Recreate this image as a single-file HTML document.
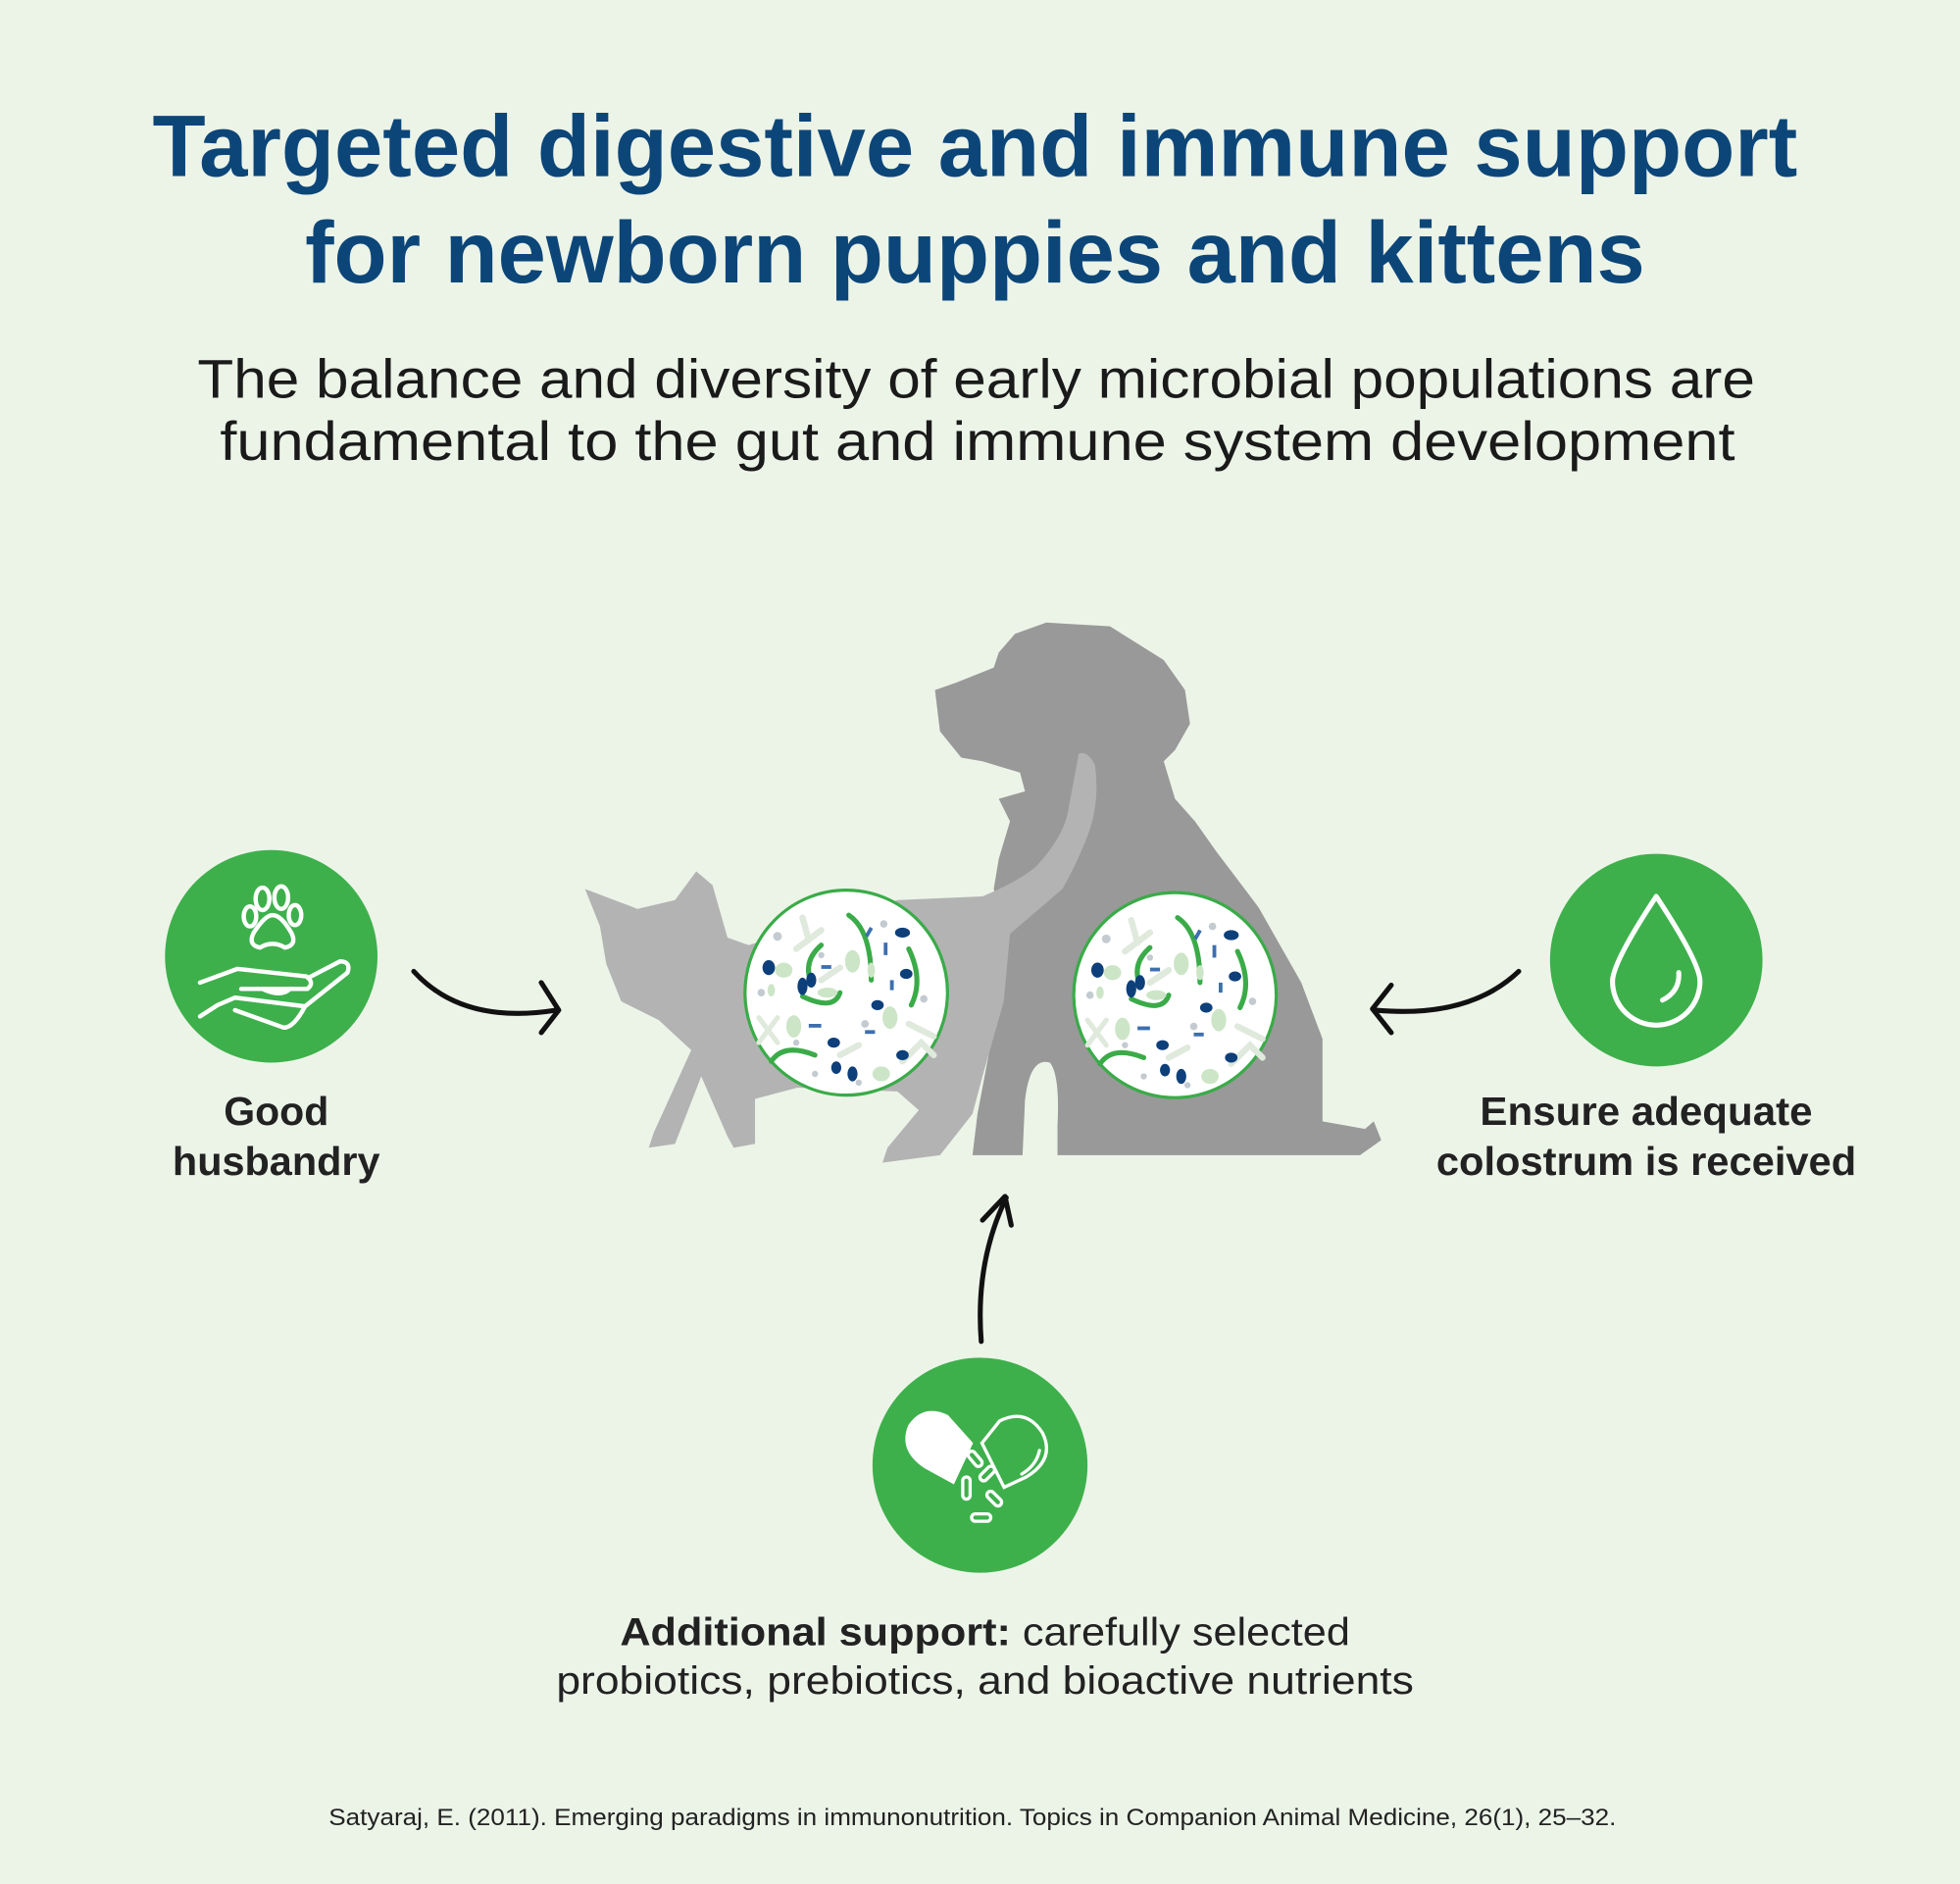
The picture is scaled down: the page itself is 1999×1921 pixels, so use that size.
<!DOCTYPE html>
<html><head><meta charset="utf-8"><style>
html,body{margin:0;padding:0;background:#ecf4e8;}
svg{display:block;}
text{font-family:"Liberation Sans",sans-serif;}
</style></head><body>
<svg width="1999" height="1921" viewBox="0 0 1568 1507" preserveAspectRatio="none" xmlns="http://www.w3.org/2000/svg">
<rect width="1568" height="1507" fill="#ecf4e8"/>
<defs>
<g id="mic">
<ellipse rx="81" ry="82" fill="#fff" stroke="#3aab48" stroke-width="2.5"/>
<g stroke-linecap="round" fill="none">
<path d="M2,-62 Q20,-50 20,-10" stroke="#3aab48" stroke-width="4"/>
<path d="M-20,-38 Q-35,-25 -28,-8" stroke="#3aab48" stroke-width="4"/>
<path d="M-35,3 Q-10,15 -5,0" stroke="#3aab48" stroke-width="4"/>
<path d="M50,-35 Q62,-10 52,10" stroke="#3aab48" stroke-width="4"/>
<path d="M-60,55 Q-50,40 -25,50" stroke="#3aab48" stroke-width="4"/>
<path d="M-40,-35 L-20,-50 M-30,-42 L-35,-60" stroke="#dfe9dc" stroke-width="5"/>
<path d="M50,25 L70,35 M45,55 L60,40 L70,50" stroke="#dfe9dc" stroke-width="5"/>
<path d="M-70,20 L-55,40 M-70,40 L-55,20" stroke="#dfe9dc" stroke-width="4"/>
<path d="M-20,-10 L-5,-20" stroke="#dfe9dc" stroke-width="5"/>
<path d="M-5,50 L10,42" stroke="#dfe9dc" stroke-width="5"/>
</g>
<g fill="#0d3f7a">
<ellipse cx="-62" cy="-20" rx="5" ry="6"/><ellipse cx="-35" cy="-5" rx="4" ry="7"/><ellipse cx="-28" cy="-10" rx="4" ry="6"/>
<ellipse cx="45" cy="-48" rx="6" ry="4"/><ellipse cx="48" cy="-15" rx="5" ry="4"/><ellipse cx="25" cy="10" rx="5" ry="4"/>
<ellipse cx="-10" cy="40" rx="5" ry="4"/><ellipse cx="45" cy="50" rx="5" ry="4"/><ellipse cx="5" cy="65" rx="4" ry="6"/><ellipse cx="-8" cy="60" rx="4" ry="5"/>
</g>
<g fill="#3d6fb0">
<rect x="-10" y="-55" width="3" height="8" transform="rotate(30)"/><rect x="30" y="-40" width="3" height="10"/><rect x="-45" y="20" width="4" height="9"/>
<rect x="-30" y="25" width="10" height="3"/><rect x="15" y="30" width="8" height="3"/><rect x="35" y="-10" width="3" height="8"/><rect x="-20" y="-22" width="8" height="3"/>
</g>
<g fill="#cde5c7">
<ellipse cx="-50" cy="-18" rx="7" ry="6"/><ellipse cx="5" cy="-25" rx="6" ry="9"/><ellipse cx="-42" cy="27" rx="6" ry="9"/><ellipse cx="35" cy="20" rx="6" ry="9"/><ellipse cx="28" cy="65" rx="7" ry="6"/>
<ellipse cx="-15" cy="0" rx="8" ry="4"/><ellipse cx="20" cy="-18" rx="3" ry="6"/><ellipse cx="-60" cy="-2" rx="3" ry="5"/>
</g>
<g fill="#c3cbd0"><circle cx="-55" cy="-45" r="3.5"/><circle cx="-20" cy="-30" r="2.5"/><circle cx="-68" cy="0" r="3"/><circle cx="30" cy="-55" r="3"/><circle cx="62" cy="5" r="3"/><circle cx="-40" cy="40" r="2.5"/><circle cx="-25" cy="65" r="2.5"/><circle cx="10" cy="72" r="2.5"/><circle cx="15" cy="25" r="3"/></g>
</g>
</defs>
<!-- Title -->
<g fill="#0c4679" font-weight="bold" font-size="70" text-anchor="middle">
<text x="780" y="141" textLength="1316" lengthAdjust="spacingAndGlyphs">Targeted digestive and immune support</text>
<text x="780" y="226" textLength="1072" lengthAdjust="spacingAndGlyphs">for newborn puppies and kittens</text>
</g>
<g fill="#1a1a1a" font-size="44" text-anchor="middle">
<text x="781" y="318" textLength="1246" lengthAdjust="spacingAndGlyphs">The balance and diversity of early microbial populations are</text>
<text x="782" y="368" textLength="1212" lengthAdjust="spacingAndGlyphs">fundamental to the gut and immune system development</text>
</g>
<!-- Dog -->
<path fill="#999999" d="M837,498 L888,501 L931,528 L948,552 L952,579 L940,600 L931,609 L940,639 L956,657 L973,681 L1007,726 L1041,786 L1058,831 L1058,897 L1092,903 L1099,897 L1105,912 L1088,924 L778,924 L782,891 L799,801 L803,741 L795,711 L799,687 L808,657 L799,639 L820,633 L816,618 L786,609 L769,606 L752,585 L748,552 L765,546 L795,534 L799,522 L812,507 Z"/>
<path fill="#ecf4e8" d="M818,925 L820,880 Q824,845 840,850 Q848,860 846,900 L846,925 Z"/>
<!-- Cat -->
<path fill="#b3b3b3" d="M468,711 L510,727 L540,720 L557,697 L570,708 L582,750 L599,756 L718,720 L786,717 Q815,705 829,693 Q850,670 854,651 L863,603 Q870,600 876,612 Q880,640 871,666 Q862,690 850,711 L808,747 L803,801 L786,861 L778,891 L752,924 L706,930 L710,918 L735,888 L718,873 L638,870 L604,879 L604,915 L587,918 L582,909 L561,861 L540,915 L519,918 L523,906 L553,840 L527,816 L497,801 L485,771 L480,741 Z"/>
<use href="#mic" x="677" y="794"/>
<use href="#mic" x="940" y="796"/>
<!-- Circles -->
<circle cx="217" cy="765" r="85" fill="#3db04b"/>
<circle cx="1325" cy="768" r="85" fill="#3db04b"/>
<circle cx="784" cy="1172" r="86" fill="#3db04b"/>
<!-- paw + hand icon -->
<g fill="none" stroke="#fff" stroke-width="3.5" stroke-linecap="round" stroke-linejoin="round">
<ellipse cx="210" cy="719" rx="5.5" ry="9"/><ellipse cx="225" cy="718" rx="5.5" ry="9"/><ellipse cx="200" cy="733" rx="5" ry="8"/><ellipse cx="236" cy="732" rx="5" ry="8"/>
<path d="M208,758 Q198,756 203,746 Q212,732 218,732 Q225,732 233,746 Q238,756 228,758 Q218,752 208,758 Z"/>
<path d="M160,786 L190,775 L245,781 Q252,786 246,791 L193,791"/>
<path d="M232,791 Q225,798 210,791"/>
<path d="M247,782 L272,769 Q281,769 278,778 L244,805 L188,798 L174,804 L160,813"/>
<path d="M244,805 Q235,822 227,822 L188,808"/>
</g>
<!-- drop icon -->
<path d="M1325,717 Q1290,770 1290,785 A35,35 0 0 0 1360,785 Q1360,770 1325,717 Z" fill="none" stroke="#fff" stroke-width="4" stroke-linejoin="round"/>
<path d="M1343,778 Q1344,793 1330,800" fill="none" stroke="#fff" stroke-width="4" stroke-linecap="round"/>
<!-- pill icon -->
<g transform="translate(782,1172) scale(1.18) translate(-782,-1172)">
<path d="M779,1157 L766,1185 L746,1174 Q728,1162 735,1145 Q745,1130 762,1138 Z" fill="#fff"/>
<g fill="none" stroke="#fff" stroke-width="2.2" stroke-linecap="round">
<path d="M785,1157 L800,1187 L815,1180 Q835,1168 826,1150 Q815,1133 797,1142 Z"/>
<path d="M812,1178 Q822,1172 824,1162"/>
<rect x="778" y="1162" width="5" height="12" rx="2.5" transform="rotate(-40 780 1168)"/>
<rect x="787" y="1172" width="5" height="12" rx="2.5" transform="rotate(-135 789 1178)"/>
<rect x="772" y="1180" width="5" height="15" rx="2.5"/>
<rect x="791" y="1189" width="5" height="12" rx="2.5" transform="rotate(-45 793 1195)"/>
<rect x="778" y="1205" width="13" height="5" rx="2.5"/>
</g>
</g>
<!-- arrows -->
<g fill="none" stroke="#111" stroke-width="4" stroke-linecap="round" stroke-linejoin="round">
<path d="M331,777 Q370,820 445,808"/>
<path d="M433,786 L447,808 L433,826"/>
<path d="M1215,777 Q1175,815 1100,808"/>
<path d="M1113,788 L1098,807 L1113,826"/>
<path d="M785,1073 Q780,1010 805,958"/>
<path d="M786,976 L804,957 L809,980"/>
</g>
<!-- labels -->
<g fill="#222" font-weight="bold" font-size="32" text-anchor="middle">
<text x="221" y="900" textLength="84" lengthAdjust="spacingAndGlyphs">Good</text>
<text x="221" y="940" textLength="166" lengthAdjust="spacingAndGlyphs">husbandry</text>
<text x="1317" y="900" textLength="266" lengthAdjust="spacingAndGlyphs">Ensure adequate</text>
<text x="1317" y="940" textLength="336" lengthAdjust="spacingAndGlyphs">colostrum is received</text>
</g>
<text x="788" y="1316" font-size="31" fill="#222" text-anchor="middle" textLength="584" lengthAdjust="spacingAndGlyphs"><tspan font-weight="bold">Additional support:</tspan> carefully selected</text>
<text x="788" y="1355" font-size="31" fill="#222" text-anchor="middle" textLength="686" lengthAdjust="spacingAndGlyphs">probiotics, prebiotics, and bioactive nutrients</text>
<text x="778" y="1460" font-size="19" fill="#222" text-anchor="middle" textLength="1030" lengthAdjust="spacingAndGlyphs">Satyaraj, E. (2011). Emerging paradigms in immunonutrition. Topics in Companion Animal Medicine, 26(1), 25–32.</text>
</svg>
</body></html>
